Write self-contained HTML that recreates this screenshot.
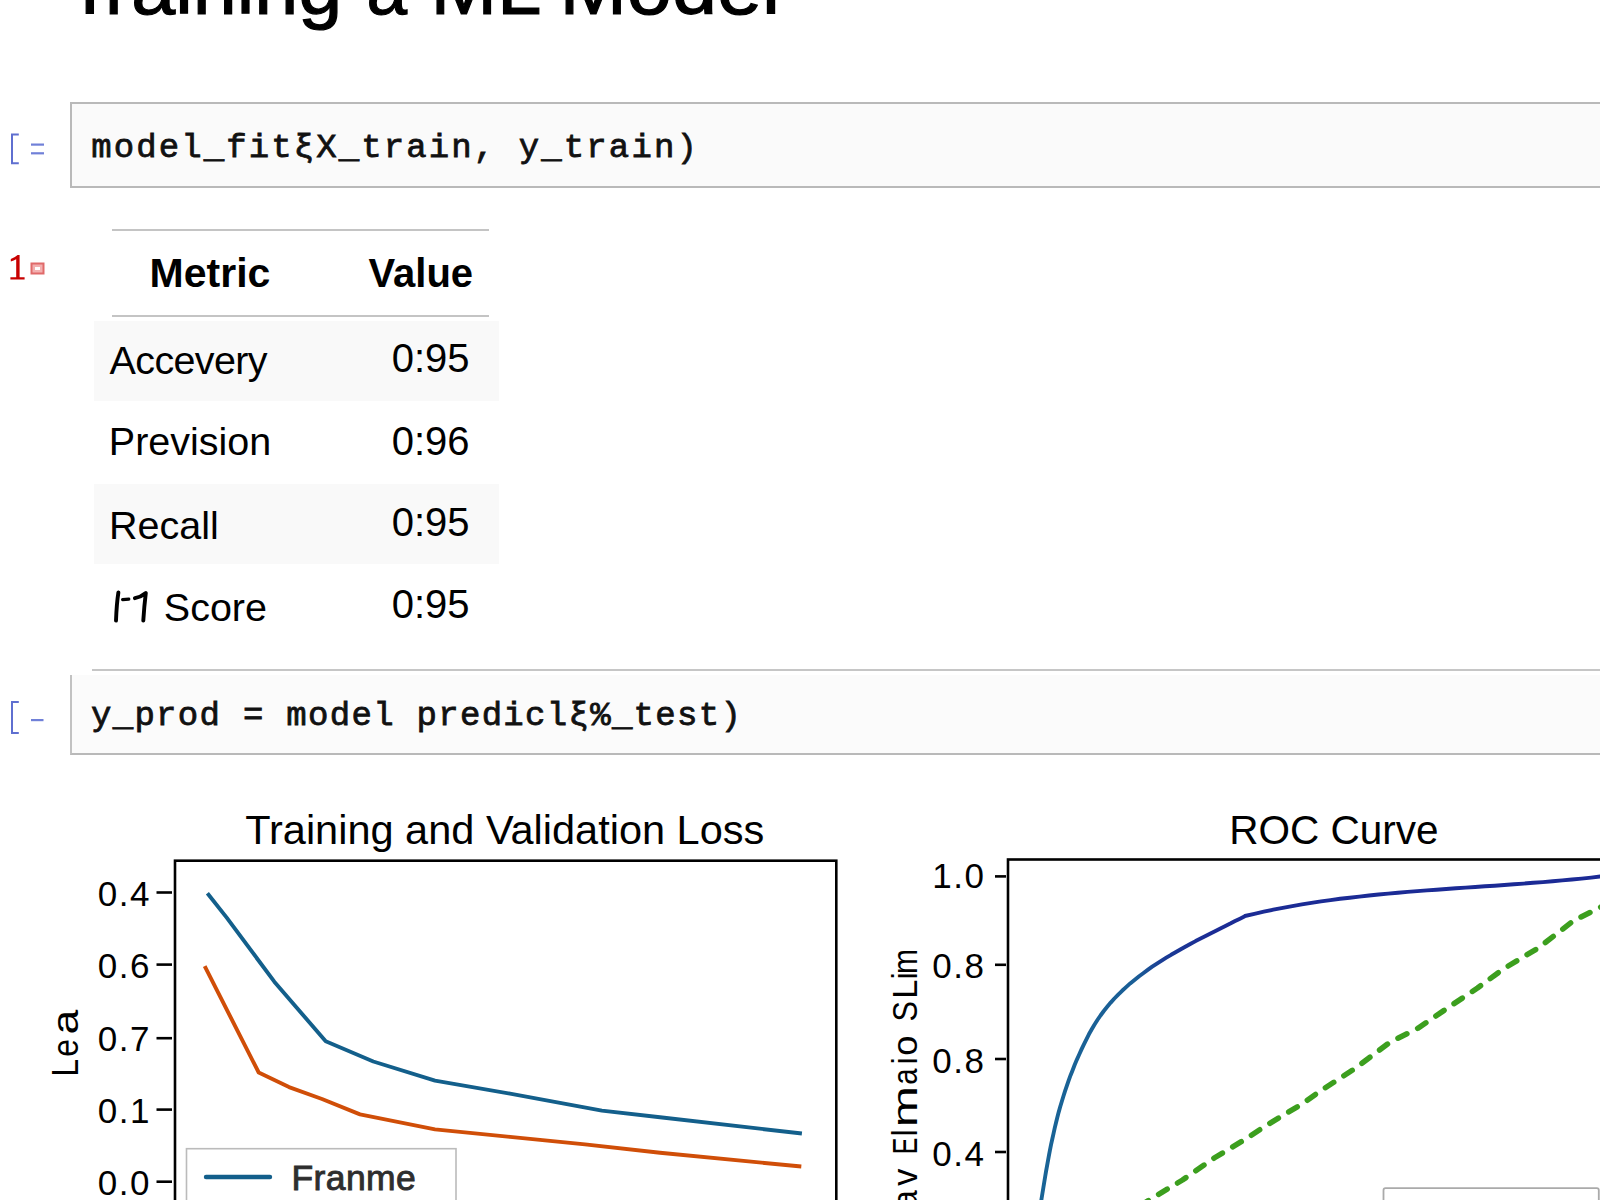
<!DOCTYPE html>
<html>
<head>
<meta charset="utf-8">
<title>Training a ML Model</title>
<style>
html,body{margin:0;padding:0;background:#fff;}
body{width:1600px;height:1200px;position:relative;overflow:hidden;font-family:"Liberation Sans",sans-serif;color:#000;}
.abs{position:absolute;white-space:pre;line-height:1;}
.mono{font-family:"Liberation Mono",monospace;}
.prompt{position:absolute;color:#5f6fd0;}
.cell{position:absolute;left:70px;width:1560px;background:#fafafa;border:2px solid #b9b9b9;border-right:none;box-sizing:border-box;}
.code{position:absolute;font-family:"Liberation Mono",monospace;font-size:34px;line-height:1;white-space:pre;color:#111;-webkit-text-stroke:0.8px #111;}
.rule{position:absolute;height:2px;background:#c4c4c4;}
.rowbg{position:absolute;left:94px;width:405px;background:#f9f9f9;}
.td{position:absolute;font-size:39.5px;line-height:1;white-space:pre;}
.th{position:absolute;font-size:41px;line-height:1;font-weight:bold;white-space:pre;}
svg text{font-family:"Liberation Sans",sans-serif;}
</style>
</head>
<body>

<!-- Title -->
<svg class="abs" style="left:0;top:0" width="1600" height="40" viewBox="0 0 1600 40">
  <g font-size="78" fill="#000" stroke="#000" stroke-width="1.2">
    <text x="65.95" y="13.7">T</text>
    <text x="104.8" y="13.7" textLength="237.5" lengthAdjust="spacingAndGlyphs">raining</text>
    <text x="366.5" y="13.7" textLength="40.6" lengthAdjust="spacingAndGlyphs">a</text>
    <text x="430.4" y="13.7" textLength="111" lengthAdjust="spacingAndGlyphs">ML</text>
    <text x="559.4" y="13.7" textLength="220.6" lengthAdjust="spacingAndGlyphs">Model</text>
  </g>
</svg>

<!-- Code cell 1 -->
<svg class="abs" style="left:0;top:120px" width="60" height="60" viewBox="0 120 60 60">
  <path d="M18.8 134.5 H12 V163.2 H18.8" fill="none" stroke="#5f6fd0" stroke-width="2"/>
  <rect x="31" y="143.5" width="13" height="2.2" fill="#7080d8"/>
  <rect x="31" y="152.2" width="13" height="2.2" fill="#7080d8"/>
</svg>
<div class="cell" style="top:102px;height:86px;"></div>
<div class="code" style="left:91.3px;top:131.4px;letter-spacing:2.1px;">model_fitξX_train, y_train)</div>

<!-- Output prompt -->
<svg class="abs" style="left:0;top:250px" width="30" height="35" viewBox="0 250 30 35">
  <path d="M10.8 259 Q14.5 257.8 17.6 255 L19.6 255 L19.6 277.2 L24.6 277.2 L24.6 279.6 L10.4 279.6 L10.4 277.2 L16.2 277.2 L16.2 259.2 Q13.8 260.8 10.8 261.4 Z" fill="#c80000"/>
</svg>
<svg class="abs" style="left:30px;top:262px" width="16" height="14" viewBox="0 0 16 14">
  <rect x="1.5" y="1.5" width="12" height="10" fill="#f3b0b0" stroke="#e06a6a" stroke-width="2"/>
  <rect x="5" y="5" width="5" height="3" fill="#fff"/>
</svg>

<!-- Table -->
<div class="rule" style="left:112px;top:229px;width:377px;"></div>
<div class="th" style="left:149.6px;top:252.8px;">Metric</div>
<div class="th" style="left:368.6px;top:252.8px;font-size:40px;">Value</div>
<div class="rule" style="left:112px;top:314.5px;width:377px;"></div>

<div class="rowbg" style="top:321px;height:80px;"></div>
<div class="rowbg" style="top:484px;height:80px;"></div>

<div class="td" style="left:109.6px;top:341.4px;letter-spacing:-0.65px;">Accevery</div>
<div class="td" style="left:108.8px;top:422.3px;">Prevision</div>
<div class="td" style="left:109.1px;top:506.4px;">Recall</div>
<svg class="abs" style="left:100px;top:580px" width="60" height="50" viewBox="100 580 60 50">
  <g fill="none" stroke="#000" stroke-linecap="round">
    <path d="M116 620.6 Q116.6 604 118.4 592.4" stroke-width="3.9"/>
    <path d="M122.6 599.6 L128.8 599.1" stroke-width="3.2"/>
    <path d="M134.9 598.2 Q141 597 145.8 593 Q144.2 606 143.3 620.6" stroke-width="3.9" stroke-linejoin="round"/>
  </g>
</svg>
<div class="td" style="left:163.8px;top:587.8px;">Score</div>

<div class="td" style="left:391.7px;top:337.9px;font-size:40px;">0:95</div>
<div class="td" style="left:391.7px;top:420.8px;font-size:40px;">0:96</div>
<div class="td" style="left:391.7px;top:501.6px;font-size:40px;">0:95</div>
<div class="td" style="left:391.7px;top:583.5px;font-size:40px;">0:95</div>

<!-- Code cell 2 -->
<div class="rule" style="left:92px;top:669px;width:1508px;background:#c6c6c6;"></div>
<svg class="abs" style="left:0;top:690px" width="60" height="60" viewBox="0 690 60 60">
  <path d="M18.8 702 H12 V733 H18.8" fill="none" stroke="#5f6fd0" stroke-width="2"/>
  <rect x="31" y="719" width="12.5" height="2.2" fill="#7080d8"/>
</svg>
<div class="cell" style="top:675px;height:80px;border-top:none;border-left-color:#c2c2c2;background:#fbfbfb;"></div>
<div class="code" style="left:91px;top:699px;letter-spacing:1.3px;">y_prod = model predicl&#958;%_test)</div>

<!-- Charts -->
<svg class="abs" style="left:0;top:780px" width="1600" height="420" viewBox="0 780 1600 420">
  <defs>
    <linearGradient id="rocg" x1="1040" y1="0" x2="1600" y2="0" gradientUnits="userSpaceOnUse">
      <stop offset="0" stop-color="#196496"/>
      <stop offset="0.17" stop-color="#1a5e96"/>
      <stop offset="0.22" stop-color="#1b3c95"/>
      <stop offset="0.3" stop-color="#1b2c95"/>
      <stop offset="1" stop-color="#1b2a95"/>
    </linearGradient>
  </defs>
  <!-- Left chart -->
  <text x="245.2" y="843.8" font-size="41.5">Training and Validation Loss</text>
  <rect x="175" y="860.7" width="661.3" height="400" fill="none" stroke="#000" stroke-width="2.6"/>
  <g stroke="#000" stroke-width="2.6">
    <line x1="156.5" y1="892.5" x2="172" y2="892.5"/>
    <line x1="156.5" y1="964.6" x2="172" y2="964.6"/>
    <line x1="156.5" y1="1038.2" x2="172" y2="1038.2"/>
    <line x1="156.5" y1="1109.6" x2="172" y2="1109.6"/>
    <line x1="156.5" y1="1181.7" x2="172" y2="1181.7"/>
  </g>
  <g font-size="35" letter-spacing="1.5" text-anchor="end">
    <text x="151" y="905.7">0.4</text>
    <text x="151" y="977.8">0.6</text>
    <text x="151" y="1051.4">0.7</text>
    <text x="151" y="1122.8">0.1</text>
    <text x="151" y="1194.9">0.0</text>
  </g>
  <g>
  <text transform="translate(77.5,0) rotate(-90) scale(0.872,1)" x="-1234.85" y="0" font-size="37">L</text>
  <text transform="translate(77.5,0) rotate(-90) scale(0.863,1)" x="-1224.58" y="0" font-size="37">e</text>
  <text transform="translate(77.5,0) rotate(-90) scale(1.206,1)" x="-857.74" y="0" font-size="37">a</text>
  </g>
  <polyline fill="none" stroke="#135f8b" stroke-width="3.9" stroke-linejoin="round"
    points="207.4,893.2 226.7,917.6 274.3,981.7 325.7,1041.3 373.3,1061.5 435,1080.6 510,1093.7 601.9,1110.6 660,1117.2 801.9,1133.5"/>
  <polyline fill="none" stroke="#d04e08" stroke-width="3.9" stroke-linejoin="round"
    points="204.7,966.2 258.7,1072.5 289,1087.1 322,1099 360,1114.4 435,1129.4 510,1136.9 585,1144.4 660,1152.8 801.3,1166.5"/>
  <rect x="186.5" y="1148.7" width="269.5" height="80" fill="#fff" stroke="#bbb" stroke-width="1.6"/>
  <line x1="206" y1="1177" x2="270" y2="1177" stroke="#135f8b" stroke-width="4.4" stroke-linecap="round"/>
  <text x="291.5" y="1190" font-size="35.5" fill="#2e2e2e" stroke="#2e2e2e" stroke-width="0.9" letter-spacing="0.4">Franme</text>

  <!-- Right chart -->
  <text x="1229.3" y="843.8" font-size="40.5">ROC Curve</text>
  <rect x="1008" y="859.5" width="700" height="400" fill="none" stroke="#000" stroke-width="2.6"/>
  <g stroke="#000" stroke-width="2.6">
    <line x1="995" y1="876.4" x2="1006" y2="876.4"/>
    <line x1="995" y1="964.8" x2="1006" y2="964.8"/>
    <line x1="995" y1="1059" x2="1006" y2="1059"/>
    <line x1="995" y1="1152" x2="1006" y2="1152"/>
  </g>
  <g font-size="35" letter-spacing="1.5" text-anchor="end">
    <text x="985.5" y="888">1.0</text>
    <text x="985.5" y="978.4">0.8</text>
    <text x="985.5" y="1072.6">0.8</text>
    <text x="985.5" y="1165.6">0.4</text>
  </g>
  <g>
  <text transform="translate(917,0) rotate(-90) scale(0.921,1)" x="-1312.08" y="0" font-size="35.5">a</text>
  <text transform="translate(917,0) rotate(-90) scale(0.958,1)" x="-1237.80" y="0" font-size="35.5">v</text>
  <text transform="translate(917,0) rotate(-90) scale(0.704,1)" x="-1639.39" y="0" font-size="35.5">E</text>
  <text transform="translate(917,0) rotate(-90) scale(0.876,1)" x="-1297.14" y="0" font-size="35.5">l</text>
  <text transform="translate(917,0) rotate(-90) scale(1.392,1)" x="-809.89" y="0" font-size="35.5">m</text>
  <text transform="translate(917,0) rotate(-90) scale(0.829,1)" x="-1308.46" y="0" font-size="35.5">a</text>
  <text transform="translate(917,0) rotate(-90) scale(0.876,1)" x="-1214.87" y="0" font-size="35.5">i</text>
  <text transform="translate(917,0) rotate(-90) scale(1.021,1)" x="-1034.00" y="0" font-size="35.5">o</text>
  <text transform="translate(917,0) rotate(-90) scale(0.860,1)" x="-1187.73" y="0" font-size="35.5">S</text>
  <text transform="translate(917,0) rotate(-90) scale(0.973,1)" x="-1026.36" y="0" font-size="35.5">L</text>
  <text transform="translate(917,0) rotate(-90) scale(0.876,1)" x="-1117.88" y="0" font-size="35.5">i</text>
  <text transform="translate(917,0) rotate(-90) scale(0.845,1)" x="-1152.68" y="0" font-size="35.5">m</text>
  </g>
  <polyline fill="none" stroke="#3c9f1e" stroke-width="5.5" stroke-dasharray="10 12" stroke-linecap="round" stroke-linejoin="round"
    points="1140,1206 1151.2,1198.7 1182.5,1180 1215,1157.5 1246.2,1138.7 1265,1126.2 1302.5,1103.7 1320,1091.2 1355,1068.5 1390,1042.2 1418,1028.2 1451.2,1005.5 1477.5,988 1503.7,968.7 1538.7,947.7 1573.7,920.6 1600,907.5 1610,902"/>
  <path fill="none" stroke="url(#rocg)" stroke-width="3.9" stroke-linejoin="round"
    d="M1039.8,1210.1 L1040.7,1204.5 L1041.5,1199.0 L1042.4,1193.5 L1043.3,1188.0 L1044.2,1182.5 L1045.1,1177.0 L1046.0,1171.6 L1047.0,1166.1 L1048.0,1160.7 L1049.0,1155.2 L1050.0,1149.8 L1051.1,1144.4 L1052.3,1139.0 L1053.5,1133.6 L1054.7,1128.2 L1056.0,1122.8 L1057.3,1117.5 L1058.7,1112.1 L1060.2,1106.8 L1061.8,1101.5 L1063.4,1096.2 L1065.1,1090.9 L1066.9,1085.6 L1068.7,1080.4 L1070.6,1075.2 L1072.7,1070.0 L1074.7,1064.8 L1076.9,1059.6 L1079.2,1054.5 L1081.5,1049.4 L1083.9,1044.3 L1086.4,1039.3 L1088.9,1034.3 L1091.6,1029.5 L1094.4,1024.7 L1097.4,1020.0 L1100.5,1015.5 L1103.8,1011.0 L1107.2,1006.8 L1110.7,1002.6 L1114.4,998.5 L1118.2,994.6 L1122.1,990.8 L1126.1,987.1 L1130.2,983.4 L1134.5,979.9 L1138.8,976.5 L1143.2,973.2 L1147.7,969.9 L1152.2,966.7 L1156.9,963.6 L1161.6,960.6 L1166.3,957.7 L1171.1,954.8 L1176.0,952.0 L1180.8,949.2 L1185.7,946.5 L1190.7,943.8 L1195.6,941.1 L1200.6,938.6 L1205.6,936.0 L1210.5,933.5 L1215.5,931.0 L1220.4,928.5 L1225.4,926.0 L1230.3,923.6 L1235.1,921.1 L1240.0,918.7 L1244.8,916.3 L1244.9,916.0 L1254.4,913.8 L1263.8,911.7 L1273.3,909.7 L1282.8,907.8 L1292.3,906.1 L1301.9,904.4 L1311.4,902.9 L1321.0,901.4 L1330.5,900.1 L1340.1,898.8 L1349.7,897.7 L1359.3,896.6 L1369.0,895.5 L1378.6,894.5 L1388.2,893.6 L1397.9,892.8 L1407.5,891.9 L1417.2,891.1 L1426.9,890.4 L1436.5,889.7 L1446.2,889.0 L1455.9,888.3 L1465.6,887.6 L1475.2,887.0 L1484.9,886.3 L1494.6,885.7 L1504.3,885.0 L1513.9,884.3 L1523.6,883.6 L1533.3,882.8 L1542.9,882.1 L1552.6,881.3 L1562.2,880.4 L1571.9,879.5 L1581.5,878.6 L1591.1,877.6 L1600.7,876.5 L1610.3,875.4 L1619.9,874.2"/>
  <rect x="1383.5" y="1188.2" width="215.3" height="80" rx="2" fill="#fff" stroke="#aaa" stroke-width="1.8"/>
</svg>

</body>
</html>
